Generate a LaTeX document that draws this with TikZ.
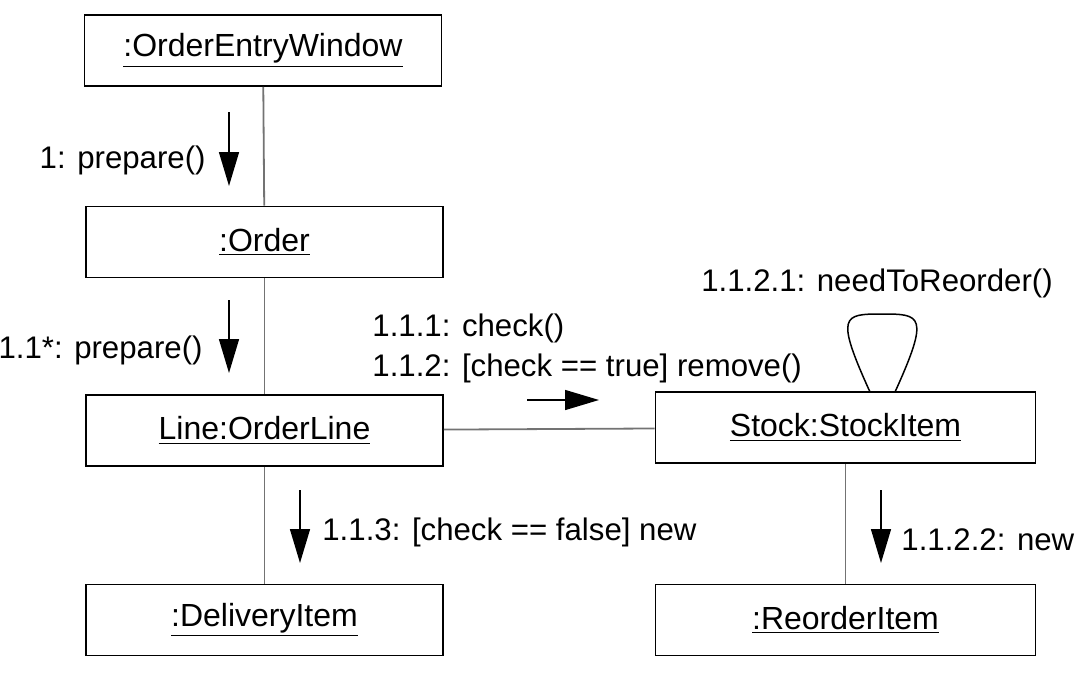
\documentclass[tikz,border=0pt]{standalone}
\usepackage{fontspec}
\setmainfont{Liberation Sans}
\usetikzlibrary{arrows.meta}
\begin{document}
\begin{tikzpicture}[x=0.5pt,y=-0.5pt]
	\tikzstyle{object}   = [rectangle, draw=black, line width=0.9pt, minimum width=178.5pt, minimum height=35.5pt, inner sep=0pt, font=\fontsize{16}{18}\selectfont]
	\tikzstyle{link}     = [draw=black!55, line width=0.9pt]
	\tikzstyle{msg}      = [-{Triangle[length=17pt,width=10pt]}, line width=0.75pt]
	\tikzstyle{msgtext}  = [inner sep=0pt, font=\fontsize{15.6}{18}\selectfont]

	\useasboundingbox (0,0) rectangle (1083,681);

	\foreach \name/\x/\y/\text in {oew/263/50.5/:OrderEntryWindow, order/264.5/242/:Order, line/264.5/430.5/Line:OrderLine, delivery/264.5/620/:DeliveryItem}
		\node[object] (\name) at (\x, \y) {\underline{\text}};
	\foreach \name/\x/\y/\text in {stock/845.5/427.5/Stock:StockItem, reorder/845.5/620/:ReorderItem}
		\node[object, minimum width=190pt] (\name) at (\x, \y) {\underline{\text}};

	\foreach \from/\to in {oew/order, order/line, line/delivery, line/stock, stock/reorder}
		\draw[link] (\from) -- (\to);

	% message arrows
	\foreach \name/\x/\y in {m1s/229/112, m1e/229/186, m2s/229/300, m2e/229/373, m3s/527/400, m3e/599/400, m4s/300/490, m4e/300/563, m5s/881/490, m5e/881/563}
		\coordinate (\name) at (\x, \y);
	\foreach \from/\to in {m1s/m1e, m2s/m2e, m3s/m3e, m4s/m4e, m5s/m5e}
		\draw[msg] (\from) -- (\to);

	\node[msgtext, anchor=east] (t1) at (206, 160) {1: prepare()};
	\node[msgtext, anchor=east] (t2) at (203, 350) {1.1*: prepare()};
	\node[msgtext, anchor=west] (t3) at (372, 328) {1.1.1: check()};
	\node[msgtext, anchor=west] (t4) at (372, 368) {1.1.2: [check == true] remove()};
	\node[msgtext, anchor=west] (t5) at (322, 532) {1.1.3: [check == false] new};
	\node[msgtext, anchor=west] (t6) at (901, 540) {1.1.2.2: new};
	\node[msgtext] (t7) at (877, 283) {1.1.2.1: needToReorder()};

	% self call on the stock item
	\coordinate (loopa) at (870, 392);
	\coordinate (loopb) at (895, 392);
	\draw[line width=0.75pt] (loopa) .. controls (835,315) and (843,314) .. (882,314) .. controls (921,314) and (930,315) .. (loopb);
\end{tikzpicture}
\end{document}
